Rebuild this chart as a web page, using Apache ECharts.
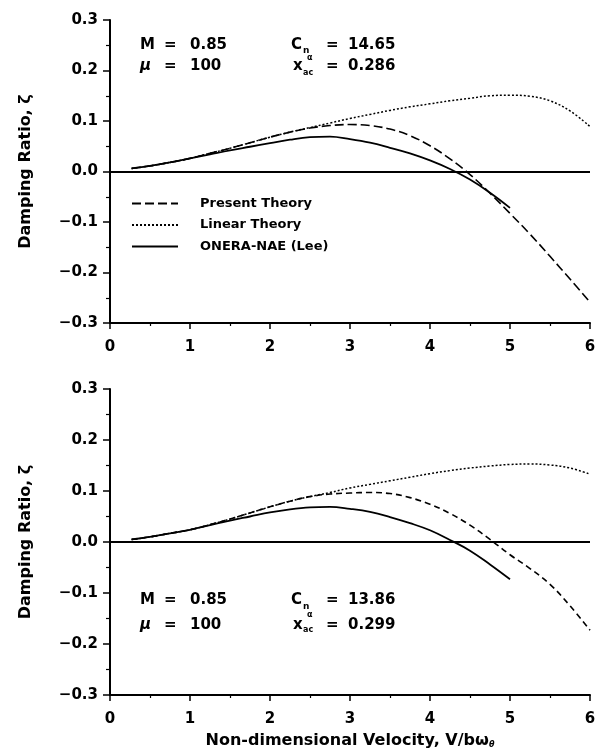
<!DOCTYPE html>
<html>
<head>
<meta charset="utf-8">
<script src="https://cdn.jsdelivr.net/npm/echarts@6.0.0/dist/echarts.min.js"></script>
<style>
html,body{margin:0;padding:0;background:#fff;}
#chart{width:604px;height:753px;}
</style>
</head>
<body>
<div id="chart"></div>
<script>
// ---------- data ----------
const xTicks = [0, 1, 2, 3, 4, 5, 6];
const yTicks = [-0.3, -0.2, -0.1, 0.0, 0.1, 0.2, 0.3];
const seriesNames = ['Present Theory', 'Linear Theory', 'ONERA-NAE (Lee)'];

const xLong = [0.27,0.5,0.75,1.0,1.25,1.5,1.75,2.0,2.25,2.5,2.75,3.0,3.25,3.5,3.75,4.0,4.25,4.5,4.75,5.0,5.25,5.5,5.75,6.0];
const xShort = [0.27,0.5,0.75,1.0,1.25,1.5,1.75,2.0,2.25,2.5,2.75,3.0,3.25,3.5,3.75,4.0,4.25,4.5,4.75,5.0];

// Top panel (C_n_alpha = 14.65, x_ac = 0.286)
const topPresent = [0.006,0.011,0.018,0.026,0.036,0.046,0.057,0.068,0.078,0.086,0.091,0.093,0.091,0.084,0.071,0.051,0.025,-0.006,-0.043,-0.083,-0.124,-0.168,-0.213,-0.259];
const topLinear  = [0.006,0.011,0.018,0.026,0.036,0.046,0.057,0.068,0.078,0.087,0.096,0.105,0.113,0.121,0.128,0.134,0.140,0.145,0.150,0.151,0.149,0.140,0.120,0.089];
const topOnera   = [0.006,0.011,0.018,0.026,0.034,0.042,0.049,0.056,0.063,0.068,0.069,0.064,0.057,0.047,0.036,0.022,0.005,-0.016,-0.042,-0.072];

// Bottom panel (C_n_alpha = 13.86, x_ac = 0.299)
const botPresent = [0.005,0.010,0.017,0.024,0.034,0.045,0.057,0.069,0.080,0.089,0.094,0.096,0.097,0.095,0.087,0.074,0.056,0.033,0.005,-0.025,-0.052,-0.083,-0.125,-0.173];
const botLinear  = [0.005,0.010,0.017,0.024,0.034,0.045,0.057,0.069,0.080,0.089,0.097,0.106,0.113,0.120,0.127,0.134,0.140,0.145,0.149,0.152,0.153,0.151,0.145,0.133];
const botOnera   = [0.005,0.010,0.017,0.024,0.033,0.042,0.050,0.058,0.064,0.068,0.069,0.065,0.059,0.049,0.037,0.023,0.004,-0.017,-0.044,-0.073];

// ---------- chart ----------
const FONT = '"DejaVu Sans", sans-serif';
const chart = echarts.init(document.getElementById('chart'), null, {renderer: 'canvas'});

function pairs(xs, ys) { return xs.map((x, i) => [x, ys[i]]); }
function fmtY(v) {
  const r = Math.round(v * 10) / 10;
  if (Math.abs(r) < 1e-9) return '0.0';
  return (r < 0 ? '\u2212' : '') + Math.abs(r).toFixed(1);
}

function xAxisCfg(gi, withName) {
  const a = {
    type: 'value', gridIndex: gi, min: xTicks[0], max: xTicks[xTicks.length - 1], interval: 1,
    axisLine: {show: true, onZero: false, lineStyle: {color: '#000', width: 2}},
    axisTick: {show: true, inside: false, length: 6, lineStyle: {color: '#000', width: 1.5}},
    minorTick: {show: true, splitNumber: 2, length: 3, lineStyle: {color: '#000', width: 1.2}},
    splitLine: {show: false},
    axisLabel: {color: '#000', fontSize: 15, fontFamily: FONT, fontWeight: 'bold', margin: 17}
  };
  if (withName) {
    a.name = 'Non-dimensional Velocity, V/b\u03c9{s|\u03b8}';
    a.nameLocation = 'middle';
    a.nameGap = 38;
    a.nameTextStyle = {color: '#000', fontSize: 16, fontFamily: FONT, fontWeight: 'bold',
      rich: {s: {fontSize: 8, fontFamily: FONT, fontWeight: 'bold', fontStyle: 'italic', color: '#000', verticalAlign: 'bottom', lineHeight: 10}}};
  }
  return a;
}
function yAxisCfg(gi) {
  return {
    type: 'value', gridIndex: gi, min: yTicks[0], max: yTicks[yTicks.length - 1], interval: 0.1,
    name: 'Damping Ratio, \u03b6', nameLocation: 'middle', nameGap: 76,
    nameTextStyle: {color: '#000', fontSize: 16, fontFamily: FONT, fontWeight: 'bold'},
    axisLine: {show: true, onZero: false, lineStyle: {color: '#000', width: 2}},
    axisTick: {show: true, inside: false, length: 7, lineStyle: {color: '#000', width: 1.5}},
    minorTick: {show: true, splitNumber: 2, length: 4, lineStyle: {color: '#000', width: 1.2}},
    splitLine: {show: false},
    axisLabel: {color: '#000', fontSize: 15, fontFamily: FONT, fontWeight: 'bold', margin: 12, formatter: fmtY}
  };
}

const zeroLine = {
  silent: true, symbol: ['none', 'none'], label: {show: false},
  lineStyle: {color: '#000', type: 'solid', width: 2}, data: [{yAxis: 0}], animation: false
};

function lineSeries(name, gi, data, lineType, width, withMark) {
  const s = {
    name: name, type: 'line', xAxisIndex: gi, yAxisIndex: gi, data: data,
    smooth: 0.4, symbol: 'none', showSymbol: false,
    lineStyle: {color: '#000', width: width, type: lineType},
    itemStyle: {color: '#000'}, z: 3
  };
  if (withMark) s.markLine = zeroLine;
  return s;
}

function txt(text, x, y, size, extra) {
  return {
    type: 'text', x: x, y: y, silent: true,
    style: Object.assign({text: text, fill: '#000', fontSize: size, fontFamily: FONT, fontWeight: 'bold',
      verticalAlign: 'middle', textVerticalAlign: 'middle', align: 'left', textAlign: 'left'}, extra || {})
  };
}
function annot(y0, dy, cn, xac, subN, subA, subAc) {
  const y1 = y0 + dy;
  return [
    txt('M', 140, y0, 15),
    txt('=', 164, y0, 15),
    txt('0.85', 190, y0, 15),
    txt('\u03bc', 140, y1, 15, {fontStyle: 'italic'}),
    txt('=', 164, y1, 15),
    txt('100', 190, y1, 15),
    txt('C', 291, y0, 15),
    txt('n', 303, y0 + subN, 9),
    txt('\u03b1', 307, y0 + subA, 8),
    txt('=', 326, y0, 15),
    txt(cn, 348, y0, 15),
    txt('x', 293, y1, 15),
    txt('ac', 303, y1 + subAc, 8),
    txt('=', 326, y1, 15),
    txt(xac, 348, y1, 15)
  ];
}

const option = {
  animation: false,
  backgroundColor: '#fff',
  grid: [
    {left: 110, right: 14, top: 20, height: 303},
    {left: 110, right: 14, top: 389, height: 306}
  ],
  xAxis: [xAxisCfg(0, false), xAxisCfg(1, true)],
  yAxis: [yAxisCfg(0), yAxisCfg(1)],
  legend: {
    show: true, orient: 'vertical', left: 126, top: 192,
    itemWidth: 46, itemHeight: 14, itemGap: 8.5,
    data: seriesNames,
    itemStyle: {opacity: 0, color: 'transparent', borderWidth: 0},
    textStyle: {color: '#000', fontSize: 13, fontFamily: FONT, fontWeight: 'bold', padding: [0, 0, 0, 17]}
  },
  series: [
    lineSeries(seriesNames[0], 0, pairs(xLong, topPresent), [9, 4], 1.6, false),
    lineSeries(seriesNames[1], 0, pairs(xLong, topLinear), [2, 2], 1.5, false),
    lineSeries(seriesNames[2], 0, pairs(xShort, topOnera), 'solid', 1.8, true),
    lineSeries(seriesNames[0], 1, pairs(xLong, botPresent), [6, 4], 1.6, false),
    lineSeries(seriesNames[1], 1, pairs(xLong, botLinear), [2, 2], 1.5, false),
    lineSeries(seriesNames[2], 1, pairs(xShort, botOnera), 'solid', 1.8, true)
  ],
  graphic: annot(45, 21.5, '14.65', '0.286', 6, 13, 6).concat(annot(600, 25, '13.86', '0.299', 7, 15, 5))
};
chart.setOption(option);
</script>
</body>
</html>
